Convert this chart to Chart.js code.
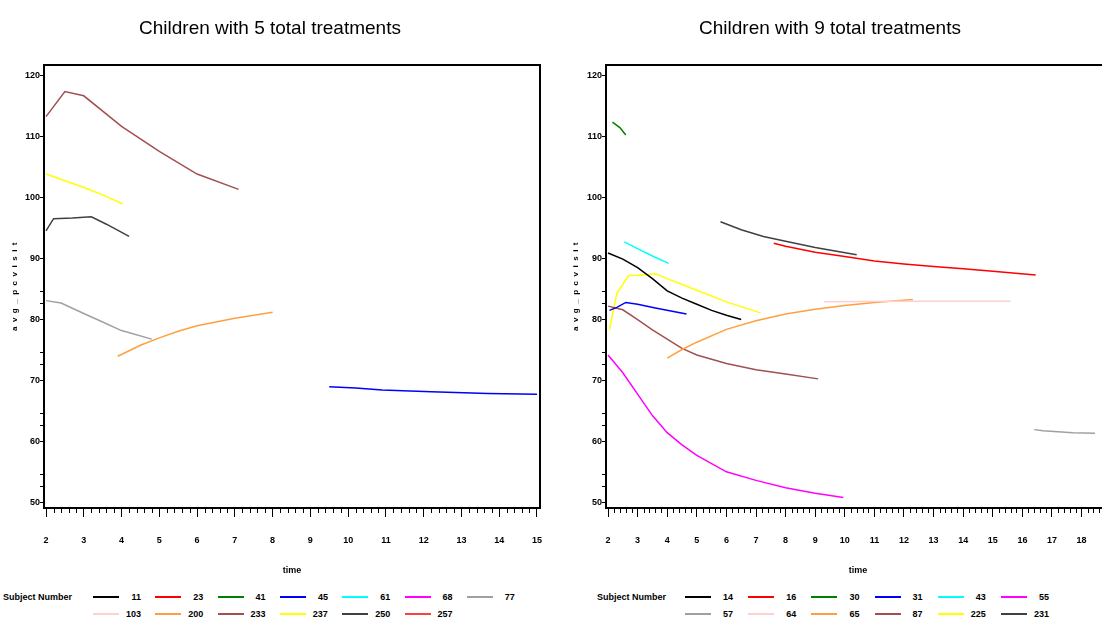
<!DOCTYPE html>
<html>
<head>
<meta charset="utf-8">
<script src="https://cdn.jsdelivr.net/npm/chart.js@4.4.0/dist/chart.umd.min.js"></script>
<style>
  body { margin: 0; width: 1102px; height: 628px; overflow: hidden; background: #fff; position: relative;
         font-family: "Liberation Sans", Arial, sans-serif; }
  canvas { position: absolute; top: 0; }
  #chart5 { left: 0; }
  #chart9 { left: 550px; }
  .lg { position: absolute; font: bold 9px "Liberation Sans", Arial, sans-serif; color: #000; white-space: nowrap; }
  .lg-line { position: absolute; height: 2px; width: 26px; }
  .lg-num { position: absolute; text-align: right; width: 30px; line-height: 10px; }
  .lg-title { position: absolute; line-height: 10px; }
</style>
</head>
<body>
<canvas id="chart5" width="550" height="590"></canvas>
<canvas id="chart9" width="570" height="590"></canvas>
<div id="legend5" class="lg"></div>
<div id="legend9" class="lg"></div>

<script>
// ---- 5 treatments ----
const subjects5 = ["11", "23", "41", "45", "61", "68", "77", "103", "200", "233", "237", "250", "257"];
const colors5 = ["#000000", "#ff0000", "#008000", "#0000ff", "#00ffff", "#ff00ff", "#a0a0a0",
                 "#ffd0d0", "#ffa040", "#a05050", "#ffff00", "#404040", "#ff4040"];

const time5_45 = [9.5, 10.2, 10.9, 12.2, 13.7, 15];
const pcv5_45 = [69.0, 68.8, 68.5, 68.2, 67.9, 67.8];
const time5_77 = [2, 2.4, 3, 3.5, 4, 4.8];
const pcv5_77 = [83.1, 82.7, 81.0, 79.6, 78.2, 76.8];
const time5_200 = [3.9, 4.5, 5, 5.5, 6, 7, 8];
const pcv5_200 = [74.0, 75.8, 77.0, 78.1, 79.0, 80.2, 81.2];
const time5_233 = [2, 2.5, 3, 4, 5, 6, 7.1];
const pcv5_233 = [113.2, 117.3, 116.6, 111.6, 107.5, 103.8, 101.3];
const time5_237 = [2, 3, 3.5, 4.03];
const pcv5_237 = [103.8, 101.6, 100.4, 98.9];
const time5_250 = [2, 2.2, 2.7, 3.2, 3.6, 4.2];
const pcv5_250 = [94.5, 96.5, 96.6, 96.8, 95.6, 93.6];

// ---- 9 treatments ----
const subjects9 = ["14", "16", "30", "31", "43", "55", "57", "64", "65", "87", "225", "231"];
const colors9 = ["#000000", "#ff0000", "#008000", "#0000ff", "#00ffff", "#ff00ff",
                 "#a0a0a0", "#ffd0d0", "#ffa040", "#a05050", "#ffff00", "#404040"];

const time9_14 = [2, 2.5, 3, 3.5, 4, 4.5, 5, 5.5, 6, 6.5];
const pcv9_14 = [90.9, 89.9, 88.5, 86.7, 84.7, 83.5, 82.5, 81.5, 80.7, 80.0];
const time9_16 = [7.6, 8, 9, 10, 11, 12, 13, 14, 15, 16.45];
const pcv9_16 = [92.5, 92.0, 91.0, 90.3, 89.6, 89.1, 88.7, 88.3, 87.9, 87.3];
const time9_30 = [2.15, 2.4, 2.6];
const pcv9_30 = [112.3, 111.4, 110.2];
const time9_31 = [2.05, 2.3, 2.6, 3, 3.6, 4.65];
const pcv9_31 = [81.5, 82.0, 82.8, 82.5, 81.9, 80.9];
const time9_43 = [2.55, 3, 3.5, 4.05];
const pcv9_43 = [92.7, 91.6, 90.4, 89.2];
const time9_55 = [2, 2.5, 3, 3.5, 4, 4.5, 5, 6, 7, 8, 9, 9.95];
const pcv9_55 = [74.2, 71.3, 67.8, 64.3, 61.5, 59.5, 57.8, 55.1, 53.7, 52.5, 51.6, 50.9];
const time9_57 = [16.4, 16.7, 17.7, 18.45];
const pcv9_57 = [62.0, 61.8, 61.5, 61.4];
const time9_64 = [9.3, 12, 15.6];
const pcv9_64 = [82.9, 83.0, 83.0];
const time9_65 = [4, 4.5, 5, 6, 7, 8, 9, 10, 11, 12.3];
const pcv9_65 = [73.7, 75.1, 76.3, 78.4, 79.8, 80.9, 81.7, 82.3, 82.8, 83.3];
const time9_87 = [2, 2.5, 3, 3.5, 4, 4.5, 5, 5.5, 6, 7, 8, 9.1];
const pcv9_87 = [82.2, 81.6, 80.0, 78.3, 76.8, 75.3, 74.2, 73.5, 72.8, 71.8, 71.1, 70.3];
const time9_225 = [2.05, 2.3, 2.7, 3, 3.6, 4, 5, 6, 7.15];
const pcv9_225 = [78.4, 84.3, 87.2, 87.2, 87.5, 86.7, 84.8, 82.9, 81.1];
const time9_231 = [5.8, 6.5, 7.25, 8, 9, 10.4];
const pcv9_231 = [96.0, 94.7, 93.6, 92.8, 91.8, 90.6];

// axis ticks
const yTicks = [50, 60, 70, 80, 90, 100, 110, 120];
const yMinor = [84.7, 82.7, 74.7, 72.7, 64.7, 62.7, 54.7, 52.7];
const xTicks5 = [2, 3, 4, 5, 6, 7, 8, 9, 10, 11, 12, 13, 14, 15];
const xTicks9 = [2, 3, 4, 5, 6, 7, 8, 9, 10, 11, 12, 13, 14, 15, 16, 17, 18];

const series5 = {
  "45": [time5_45, pcv5_45], "77": [time5_77, pcv5_77], "200": [time5_200, pcv5_200],
  "233": [time5_233, pcv5_233], "237": [time5_237, pcv5_237], "250": [time5_250, pcv5_250]
};
const series9 = {
  "14": [time9_14, pcv9_14], "16": [time9_16, pcv9_16], "30": [time9_30, pcv9_30],
  "31": [time9_31, pcv9_31], "43": [time9_43, pcv9_43], "55": [time9_55, pcv9_55],
  "57": [time9_57, pcv9_57], "64": [time9_64, pcv9_64], "65": [time9_65, pcv9_65],
  "87": [time9_87, pcv9_87], "225": [time9_225, pcv9_225], "231": [time9_231, pcv9_231]
};

const FONT = "'Liberation Sans', Arial, sans-serif";

function toPoints(pair) {
  if (!pair) return [];
  return pair[0].map((t, i) => ({ x: t, y: pair[1][i] }));
}

// frame box, minor ticks and spaced-out y title
const framePlugin = {
  id: "frame",
  afterDraw(chart, args, opts) {
    const { ctx, chartArea: a, scales } = chart;
    ctx.save();
    ctx.strokeStyle = "#000";
    ctx.lineWidth = 2;
    ctx.strokeRect(a.left, a.top, a.right - a.left, a.bottom - a.top);

    ctx.lineWidth = 1;
    ctx.beginPath();
    const xs = scales.x;
    for (let v = Math.ceil(xs.min); v < xs.max; v += 1) {
      for (let k = 1; k < 5; k++) {
        const px = Math.round(xs.getPixelForValue(v + k * 0.2)) + 0.5;
        if (px > a.right) break;
        ctx.moveTo(px, a.bottom);
        ctx.lineTo(px, a.bottom + 5);
      }
    }
    yMinor.forEach((v) => {
      const py = Math.round(scales.y.getPixelForValue(v)) + 0.5;
      ctx.moveTo(a.left, py);
      ctx.lineTo(a.left - 4, py);
    });
    ctx.stroke();

    ctx.translate(opts.titleX, (a.top + a.bottom) / 2 - 2);
    ctx.rotate(-Math.PI / 2);
    ctx.font = "bold 8px " + FONT;
    ctx.letterSpacing = "4.5px";
    ctx.fillStyle = "#000";
    ctx.textAlign = "center";
    ctx.textBaseline = "middle";
    ctx.fillText("avg_pcvisit", 0, 0);
    ctx.restore();
  }
};

function makeChart(id, title, subjects, colors, series, xMin, xMax, xTicks, yWidth, padRight, titleX) {
  const datasets = subjects.map((s, i) => ({
    label: s,
    data: toPoints(series[s]),
    borderColor: colors[i],
    backgroundColor: colors[i],
    borderWidth: 1.5,
    pointRadius: 0,
    tension: 0,
    fill: false
  }));

  return new Chart(document.getElementById(id), {
    type: "line",
    data: { datasets },
    options: {
      responsive: false,
      animation: false,
      devicePixelRatio: 1,
      layout: { padding: { left: 0, right: padRight, top: 0, bottom: 0 } },
      plugins: {
        legend: { display: false },
        tooltip: { enabled: false },
        title: {
          display: true,
          text: title,
          color: "#000",
          font: { family: FONT, size: 19, weight: "normal", lineHeight: 1.2 },
          padding: { top: 17, bottom: 25.2 }
        },
        frame: { titleX }
      },
      scales: {
        x: {
          type: "linear",
          min: xMin,
          max: xMax,
          afterBuildTicks: (sc) => { sc.ticks = xTicks.map((v) => ({ value: v })); },
          afterFit: (sc) => { sc.height = 82; sc.paddingLeft = 0; sc.paddingRight = 0; },
          border: { display: true, color: "#000", width: 2 },
          grid: { drawOnChartArea: false, drawTicks: true, tickLength: 9, tickColor: "#000", tickWidth: 1 },
          ticks: {
            autoSkip: false, maxRotation: 0, padding: 18, color: "#000",
            font: { family: FONT, size: 9, weight: "bold" },
            callback: (v) => String(v)
          },
          title: {
            display: true, text: "time", color: "#000",
            font: { family: FONT, size: 9, weight: "bold", lineHeight: 1.2 },
            padding: { top: 0, bottom: 13.6 }
          }
        },
        y: {
          type: "linear",
          min: 49.18,
          max: 121.64,
          afterBuildTicks: (sc) => { sc.ticks = yTicks.map((v) => ({ value: v })); },
          afterFit: (sc) => { sc.width = yWidth; sc.paddingTop = 0; sc.paddingBottom = 0; },
          border: { display: true, color: "#000", width: 2 },
          grid: { drawOnChartArea: false, drawTicks: true, tickLength: 4, tickColor: "#000", tickWidth: 1 },
          ticks: {
            padding: 0, color: "#000",
            font: { family: FONT, size: 9, weight: "bold" },
            callback: (v) => String(v)
          }
        }
      }
    },
    plugins: [framePlugin]
  });
}

makeChart("chart5", "Children with 5 total treatments", subjects5, colors5, series5,
  1.947, 15.08, xTicks5, 44, 10, 15);
makeChart("chart9", "Children with 9 total treatments", subjects9, colors9, series9,
  1.932, 18.96, xTicks9, 56, 10, 26);

// legend rows under each panel
function buildLegend(id, subjects, colors, perRow, titleLeft, lineLeft, numRight, step) {
  const box = document.getElementById(id);
  const t = document.createElement("div");
  t.className = "lg-title";
  t.textContent = "Subject Number";
  t.style.left = titleLeft + "px";
  t.style.top = "592px";
  box.appendChild(t);
  subjects.forEach((s, i) => {
    const row = Math.floor(i / perRow);
    const col = i % perRow;
    const cy = 597 + row * 17;
    const ln = document.createElement("div");
    ln.className = "lg-line";
    ln.style.background = colors[i];
    ln.style.left = (lineLeft + col * step) + "px";
    ln.style.top = (cy - 1) + "px";
    box.appendChild(ln);
    const n = document.createElement("div");
    n.className = "lg-num";
    n.textContent = s;
    n.style.left = (numRight + col * step - 30) + "px";
    n.style.top = (cy - 5) + "px";
    box.appendChild(n);
  });
}

buildLegend("legend5", subjects5, colors5, 7, 3, 93, 141, 62.3);
buildLegend("legend9", subjects9, colors9, 6, 597, 685, 733, 63.2);
</script>
</body>
</html>
